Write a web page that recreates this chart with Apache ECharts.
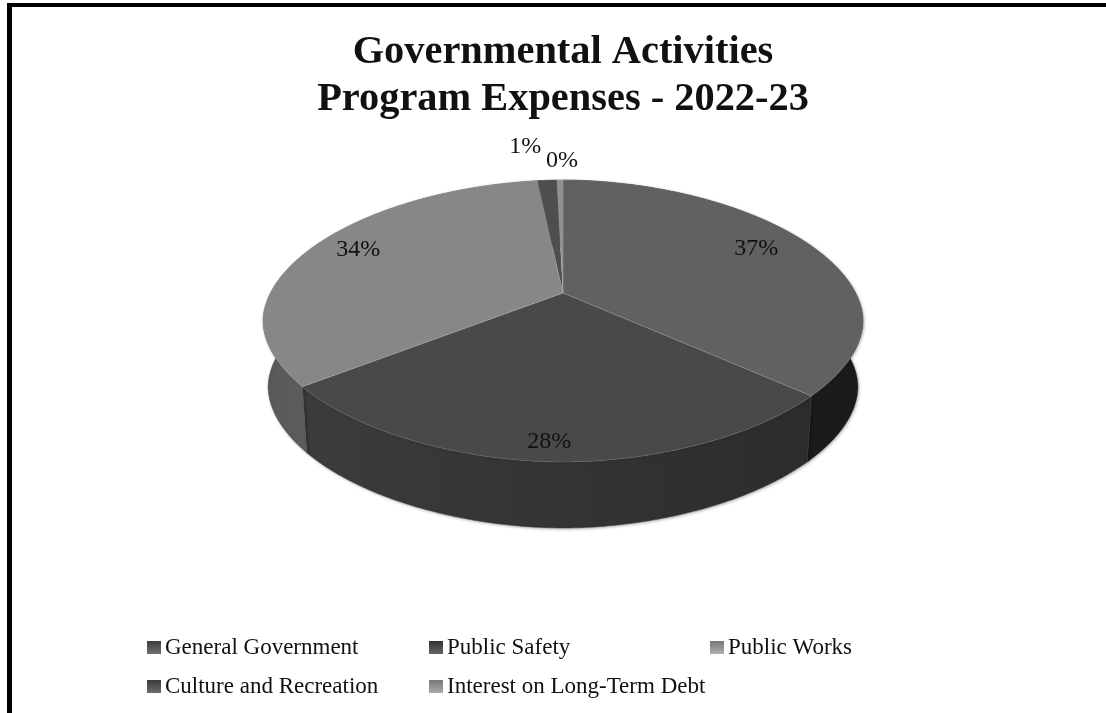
<!DOCTYPE html>
<html><head><meta charset="utf-8">
<style>html,body{margin:0;padding:0;background:#fff}#c{width:1106px;height:713px;filter:blur(0.5px)}</style>
<script src="https://cdn.jsdelivr.net/npm/echarts@6/dist/echarts.min.js"></script>
</head><body><div id="c"></div>
<script>
const titleText = 'Governmental Activities\nProgram Expenses - 2022-23';
const categories = ['General Government','Public Safety','Public Works','Culture and Recreation','Interest on Long-Term Debt'];
const shares = [36.5, 28.1, 33.7, 1.3, 0.4];

const topColors = ['#616161','#494949','#878787','#4e4e4e','#909090'];
const sideColors = [['#222222','#1a1a1a'],['#3c3c3c','#2c2c2c'],['#5a5a5a','#6a6a6a'],['#333333','#333333'],['#666666','#666666']];
const iconColors = [['#3c3c3c','#707070'],['#333333','#666666'],['#777777','#b0b0b0'],['#3a3a3a','#6c6c6c'],['#777777','#aaaaaa']];
// pie geometry (perspective rim, apex is off the rim's centre)
const G = {ax:563, ay:293, cy:321, rx:300, ry:141, p:1.9, depth:66, shrink:0.983};
// label placement: fraction of the way from apex to rim, plus a pixel nudge
const labelPos = [[0.70,24,-8],[0.87,-3,2],[0.75,-21,-6],[1,-22,-34],[1,2,-19]];

function rim(angle){
  const dx = G.rx*Math.sin(angle), dy = -G.ry*Math.cos(angle);
  let lo = 0, hi = 3;
  for(let n=0;n<40;n++){
    const t = (lo+hi)/2;
    const f = Math.pow(Math.abs(t*dx)/G.rx,G.p)+Math.pow(Math.abs(G.ay+t*dy-G.cy)/G.ry,G.p);
    if(f<1) lo=t; else hi=t;
  }
  return [G.ax+lo*dx, G.ay+lo*dy];
}
const total = shares.reduce((a,b)=>a+b,0);
function renderSlice(params, api){
  const i = params.seriesIndex, v = api.value(0);
  const before = shares.slice(0,i).reduce((a,b)=>a+b,0);
  const a0 = before/total*2*Math.PI, a1 = (before+v)/total*2*Math.PI;
  const n = Math.max(4, Math.ceil((a1-a0)/0.01));
  const arc = [];
  for(let k=0;k<=n;k++) arc.push(rim(a0+(a1-a0)*k/n));
  const low = arc.map(p=>[G.ax+(p[0]-G.ax)*G.shrink, p[1]+G.depth]).reverse();
  const mid = rim((a0+a1)/2), lp = labelPos[i];
  const lx = G.ax+(mid[0]-G.ax)*lp[0]+lp[1], ly = G.ay+(mid[1]-G.ay)*lp[0]+lp[2];
  return {type:'group', children:[
    {type:'polygon', z2:1, shape:{points:arc.concat(low)}, style:{
      fill:new echarts.graphic.LinearGradient(0,0,1,0,[{offset:0,color:sideColors[i][0]},{offset:1,color:sideColors[i][1]}]),
      stroke:sideColors[i][0], lineWidth:0.5, shadowBlur:3, shadowColor:'rgba(0,0,0,0.3)', shadowOffsetX:1, shadowOffsetY:1}},
    {type:'polygon', z2:2, shape:{points:[[G.ax,G.ay]].concat(arc)}, style:{fill:topColors[i], stroke:'rgba(255,255,255,0.12)', lineWidth:0.8}},
    {type:'text', z2:3, style:{text:Math.round(v)+'%', x:lx, y:ly, fill:'#111', align:'center', verticalAlign:'middle',
      font:'24px "Liberation Serif"'}}
  ]};
}
const legendBase = {orient:'vertical', itemWidth:14, itemHeight:13, itemGap:16, icon:'rect', selectedMode:false,
  textStyle:{fontFamily:'Liberation Serif', fontSize:23, color:'#111', padding:[0,0,0,-1]}, top:631};
const chart = echarts.init(document.getElementById('c'), null, {renderer:'canvas'});
chart.setOption({
  animation:false,
  backgroundColor:'#fff',
  title:{text:titleText, left:558, top:24, textAlign:'center',
    textStyle:{fontFamily:'Liberation Serif', fontWeight:'bold', fontSize:40.4, lineHeight:47, color:'#111'}},
  legend:[
    Object.assign({},legendBase,{left:142, data:[categories[0],categories[3]]}),
    Object.assign({},legendBase,{left:424, data:[categories[1],categories[4]]}),
    Object.assign({},legendBase,{left:705, data:[categories[2]]})
  ],
  graphic:[
    {type:'rect', shape:{x:7,y:3,width:1099,height:4}, style:{fill:'#000'}},
    {type:'rect', shape:{x:7,y:3,width:5,height:710}, style:{fill:'#000'}}
  ],
  series:categories.map((name,i)=>({
    type:'custom', name, coordinateSystem:'none', renderItem:renderSlice, silent:true, clip:false,
    itemStyle:{color:new echarts.graphic.LinearGradient(0,0,0,1,[{offset:0,color:iconColors[i][0]},{offset:1,color:iconColors[i][1]}])},
    data:[[shares[i]]]
  }))
});
</script></body></html>
